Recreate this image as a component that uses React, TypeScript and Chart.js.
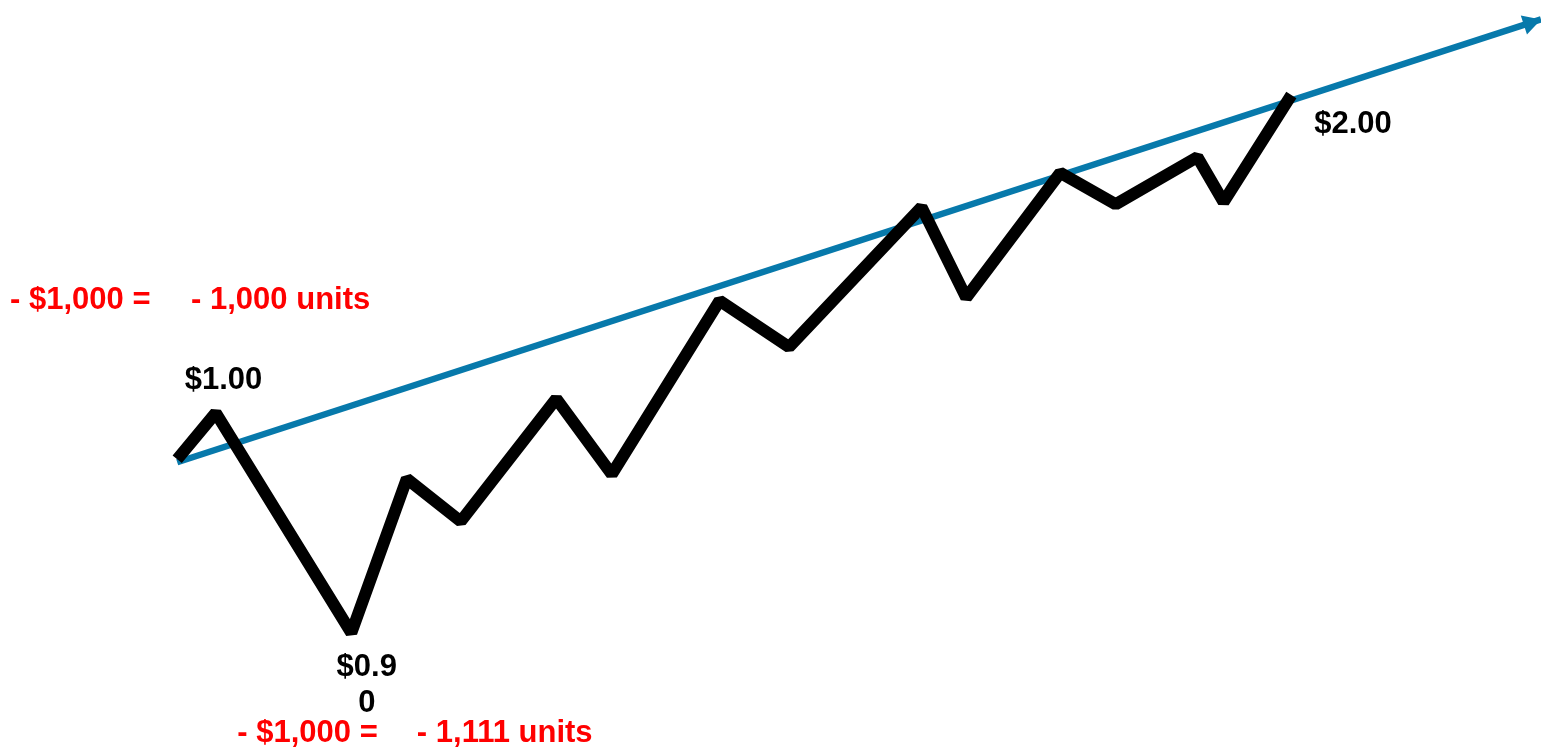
import React, { useEffect, useRef } from "react";
import { Chart, registerables } from "chart.js";

Chart.register(...registerables);

// Schematic price path (x: time units 0-100, y: relative price level 0-100)
const pathX = [11.5, 14.0, 22.8, 26.4, 29.9, 36.1, 39.7, 46.7, 51.2, 59.8, 62.7, 68.8, 72.4, 77.7, 79.4, 83.8];
const pathY = [38.6, 44.8, 15.4, 36.0, 30.3, 46.7, 36.6, 59.8, 53.6, 72.3, 60.2, 76.9, 72.7, 79.0, 73.0, 87.3];

// Trend line (start and arrow tip)
const trendX = [11.5, 100];
const trendY = [38.2, 97.4];

// Text annotations
const priceLabels = ["$1.00", "$0.9\n0", "$2.00"];
const priceLabelX = [14.5, 23.8, 87.8];
const priceLabelY = [49.2, 8.3, 83.3];

const redLabels = ["- $1,000 =", "- 1,000 units", "- $1,000 =", "- 1,111 units"];
const redLabelX = [0.65, 12.4, 15.4, 27.05];
const redLabelY = [59.8, 59.8, 2.0, 2.0];

const BLUE = "#0779AB";
const RED = "#FF0000";

const annotationPlugin = {
  id: "annotations",
  afterDatasetsDraw(chart: any) {
    const { ctx, scales } = chart;
    const xs = scales.x;
    const ys = scales.y;
    // arrowhead on trend line
    const x0 = xs.getPixelForValue(trendX[0]);
    const y0 = ys.getPixelForValue(trendY[0]);
    const x1 = xs.getPixelForValue(trendX[1]);
    const y1 = ys.getPixelForValue(trendY[1]);
    const ang = Math.atan2(y1 - y0, x1 - x0);
    const len = 18;
    const half = 10;
    ctx.save();
    ctx.fillStyle = BLUE;
    ctx.beginPath();
    ctx.moveTo(x1, y1);
    ctx.lineTo(x1 - len * Math.cos(ang) + half * Math.sin(ang), y1 - len * Math.sin(ang) - half * Math.cos(ang));
    ctx.lineTo(x1 - len * Math.cos(ang) - half * Math.sin(ang), y1 - len * Math.sin(ang) + half * Math.cos(ang));
    ctx.closePath();
    ctx.fill();

    ctx.font = "bold 31px 'Liberation Sans', Arial, sans-serif";
    ctx.textBaseline = "middle";
    ctx.textAlign = "center";
    ctx.fillStyle = "#000";
    priceLabels.forEach((t, i) => {
      const px = xs.getPixelForValue(priceLabelX[i]);
      const py = ys.getPixelForValue(priceLabelY[i]);
      const lines = t.split("\n");
      const lh = 36;
      lines.forEach((ln, j) => {
        ctx.fillText(ln, px, py - ((lines.length - 1) * lh) / 2 + j * lh);
      });
    });
    ctx.textAlign = "left";
    ctx.fillStyle = RED;
    redLabels.forEach((t, i) => {
      ctx.fillText(t, xs.getPixelForValue(redLabelX[i]), ys.getPixelForValue(redLabelY[i]));
    });
    ctx.restore();
  },
};

export default function App() {
  const ref = useRef<HTMLCanvasElement>(null);
  useEffect(() => {
    if (!ref.current) return;
    const chart = new Chart(ref.current, {
      type: "line",
      data: {
        datasets: [
          {
            label: "Trend",
            data: trendX.map((x, i) => ({ x, y: trendY[i] })),
            borderColor: BLUE,
            borderWidth: 6.5,
            pointRadius: 0,
            tension: 0,
            clip: false as any,
            order: 2,
          },
          {
            label: "Price",
            data: pathX.map((x, i) => ({ x, y: pathY[i] })),
            borderColor: "#000",
            borderWidth: 12,
            borderJoinStyle: "bevel",
            borderCapStyle: "butt",
            pointRadius: 0,
            tension: 0,
            clip: false as any,
            order: 1,
          },
        ],
      },
      options: {
        animation: false,
        responsive: true,
        maintainAspectRatio: false,
        layout: { padding: 0 },
        plugins: { legend: { display: false }, tooltip: { enabled: false } },
        scales: {
          x: { type: "linear", min: 0, max: 100, display: false },
          y: { type: "linear", min: 0, max: 100, display: false },
        },
      },
      plugins: [annotationPlugin],
    });
    return () => chart.destroy();
  }, []);
  return (
    <div style={{ position: "fixed", left: 0, top: 0, width: 1541, height: 748, background: "#fff" }}>
      <canvas ref={ref} />
    </div>
  );
}
